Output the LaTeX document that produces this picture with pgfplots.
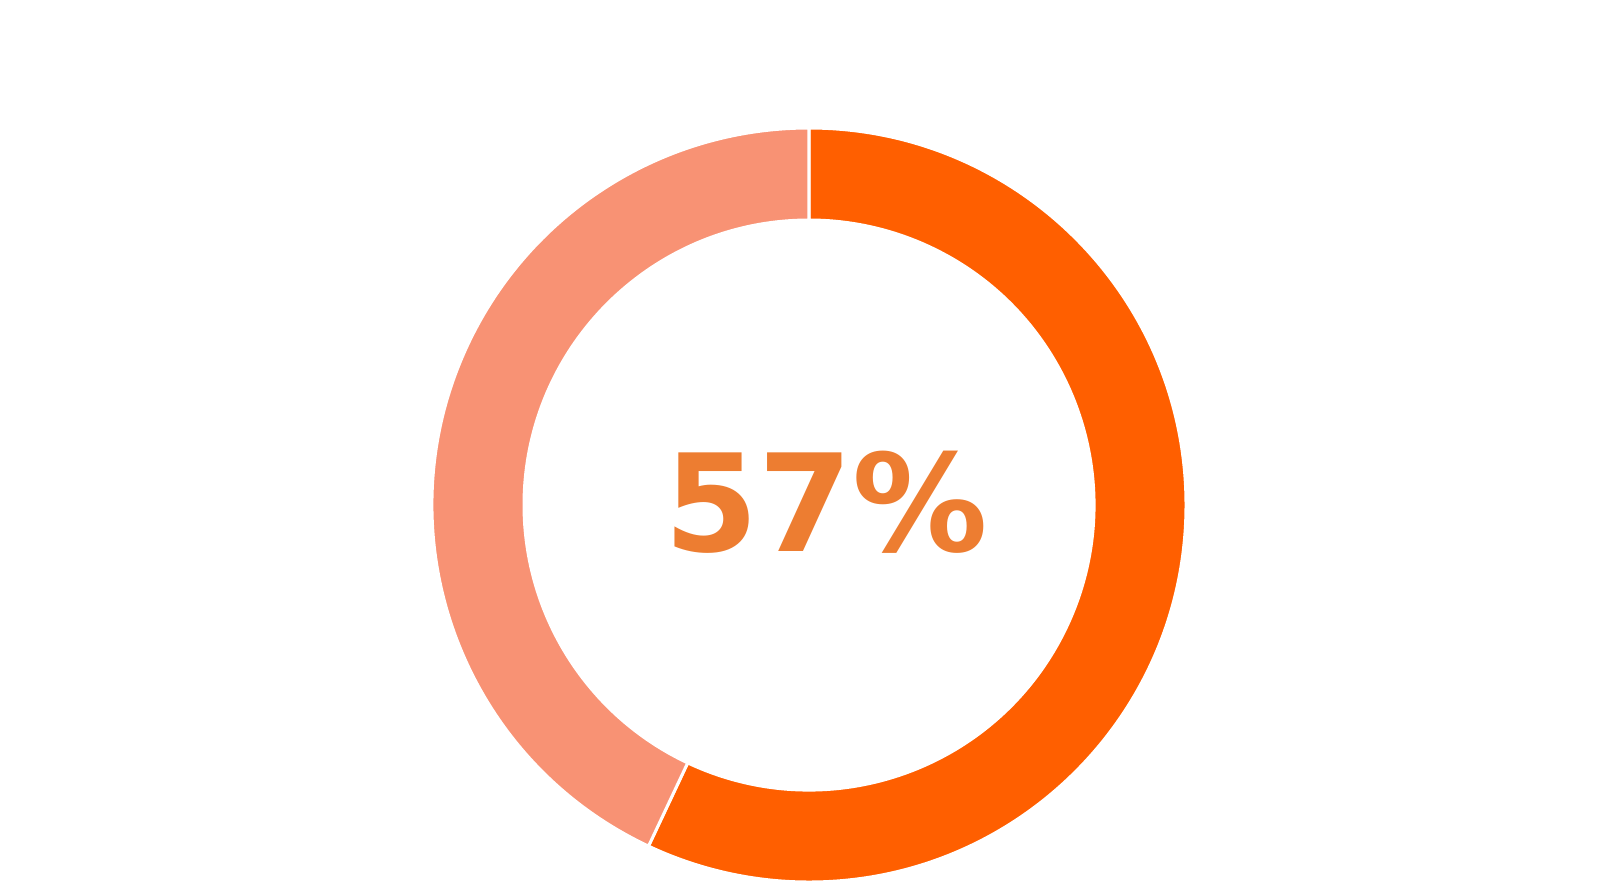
\documentclass[border=0pt]{standalone}
\usepackage{pgfplots}
\pgfplotsset{compat=1.18}
\usepackage{pgfplotstable}
\usepackage{fontspec}
\newfontfamily\dejabold{DejaVu Sans}[BoldFont={DejaVu Sans Bold}]
\definecolor{mainor}{HTML}{FF5F00}
\definecolor{lightor}{HTML}{F89274}
\definecolor{txtor}{HTML}{ED7D31}
\pgfplotstableread{
label value
A 57
B 43
}\piedata
\begin{document}
\begin{tikzpicture}
\pgfplotstablegetelem{0}{value}\of\piedata
\let\va\pgfplotsretval
\pgfplotstablegetelem{1}{value}\of\piedata
\let\vb\pgfplotsretval
\pgfmathsetmacro\fa{\va/(\va+\vb)}
\pgfmathsetmacro\fb{\vb/(\va+\vb)}
\pgfmathsetmacro\angA{90-360*\fa}
\pgfmathsetmacro\angB{\angA-360*\fb}
\begin{axis}[
  scale only axis, width=16.08cm, height=8.93cm,
  xmin=0, xmax=1608, ymin=0, ymax=893,
  hide axis, clip=false]
\addplot[draw=none] coordinates {(809,388)};
\begin{scope}[shift={(axis cs:809,388)}]
\fill[mainor, draw=white, line width=0.3mm] (90:3.77cm) arc[start angle=90, end angle=\angA, radius=3.77cm] -- (\angA:2.85cm) arc[start angle=\angA, end angle=90, radius=2.85cm] -- cycle;
\fill[lightor, draw=white, line width=0.3mm] (\angA:3.77cm) arc[start angle=\angA, end angle=\angB, radius=3.77cm] -- (\angB:2.85cm) arc[start angle=\angB, end angle=\angA, radius=2.85cm] -- cycle;
\end{scope}
\node[anchor=base, text=txtor, font=\dejabold\bfseries\fontsize{38.5}{40}\selectfont, inner sep=0pt] at (axis cs:826,342) {\va\%};
\end{axis}
\path (current axis.south west) rectangle (current axis.north east);
\end{tikzpicture}
\end{document}
